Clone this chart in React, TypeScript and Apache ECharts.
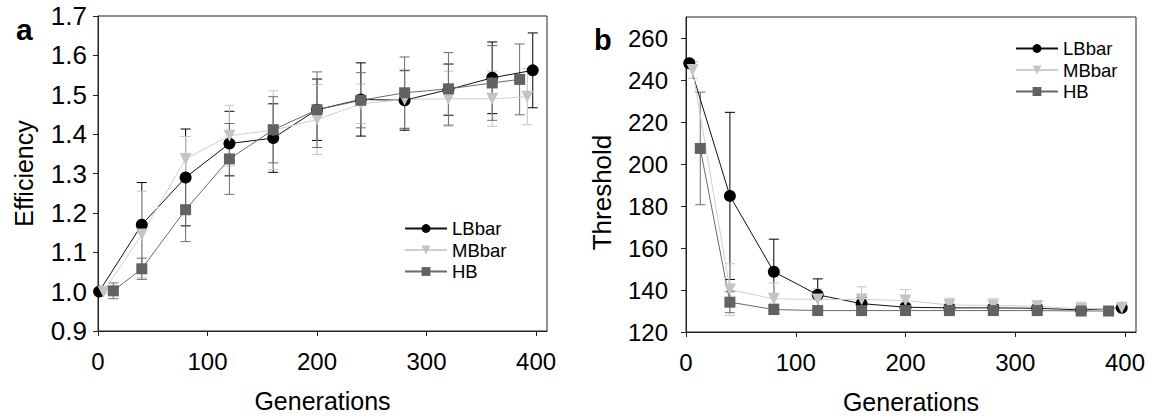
import React, { useEffect, useRef } from "react";
import * as echarts from "echarts";

// ---- Panel a: Efficiency ----
const genA_LB = [1, 40, 80, 120, 160, 200, 240, 280, 320, 360, 397];
const effLB = [1.0, 1.17, 1.29, 1.376, 1.39, 1.462, 1.488, 1.486, 1.513, 1.543, 1.562];
const effLBErr = [0.005, 0.107, 0.123, 0.082, 0.087, 0.078, 0.093, 0.076, 0.065, 0.091, 0.095];

const genA_MB = [5, 40, 80, 120, 160, 200, 240, 280, 320, 360, 392];
const effMB = [1.0, 1.145, 1.337, 1.396, 1.41, 1.437, 1.477, 1.488, 1.49, 1.49, 1.495];
const effMBErr = [0.005, 0.11, 0.057, 0.077, 0.1, 0.089, 0.05, 0.072, 0.07, 0.07, 0.071];

const genA_HB = [14, 40, 80, 120, 160, 200, 240, 280, 320, 360, 385];
const effHB = [1.002, 1.058, 1.208, 1.337, 1.411, 1.462, 1.486, 1.505, 1.515, 1.53, 1.539];
const effHBErr = [0.02, 0.027, 0.081, 0.09, 0.084, 0.096, 0.07, 0.091, 0.092, 0.095, 0.09];

// ---- Panel b: Threshold ----
const genB_LB = [3, 40, 80, 120, 160, 200, 240, 280, 320, 360, 397];
const thrLB = [248, 184.8, 148.7, 137.7, 133.5, 131.8, 131.5, 131.5, 131.3, 130.5, 131.5];
const thrLBErr = [1.5, 39.8, 15.5, 7.6, 3, 1.5, 1.5, 1.5, 1.5, 1.5, 1];

const genB_MB = [6, 40, 80, 120, 160, 200, 240, 280, 320, 360, 397];
const thrMB = [244.8, 140.2, 135.8, 135.5, 135.5, 135, 132.9, 132.6, 132.3, 131, 131.5];
const thrMBErr = [4, 12.3, 7.5, 5, 6, 5.2, 3.2, 3.2, 2.7, 3.2, 1];

const genB_HB = [13, 40, 80, 120, 160, 200, 240, 280, 320, 360, 385];
const thrHB = [207.4, 134.2, 130.7, 130.2, 130.2, 130.2, 130.2, 130.2, 130.2, 130, 130];
const thrHBErr = [26.8, 5, 1.5, 1, 1, 1, 1, 1, 1, 1, 1];

const seriesNames = ["LBbar", "MBbar", "HB"];
const xTicks = [0, 100, 200, 300, 400];
const yTicksA = [0.9, 1.0, 1.1, 1.2, 1.3, 1.4, 1.5, 1.6, 1.7];
const yTicksB = [120, 140, 160, 180, 200, 220, 240, 260];

const FONT = "Liberation Sans, Arial, sans-serif";
const C_LB = "#000000";
const C_MB = "#c4c4c4";
const C_HB = "#626262";
const TRI_DOWN = "path://M0,0 L10,0 L5,9 Z";

function lineSeries(name: string, xs: number[], ys: number[], color: string, lineColor: string, symbol: string, size: number, idx: number) {
  return {
    type: "line",
    name,
    xAxisIndex: idx,
    yAxisIndex: idx,
    data: xs.map((x, i) => [x, ys[i]]),
    symbol,
    symbolSize: size,
    showAllSymbol: true,
    itemStyle: { color, borderWidth: 0 },
    lineStyle: { color: lineColor, width: 1 },
    z: 3,
    silent: true,
  };
}

function errSeries(name: string, xs: number[], ys: number[], errs: number[], color: string, idx: number) {
  return {
    type: "custom",
    name,
    xAxisIndex: idx,
    yAxisIndex: idx,
    data: xs.map((x, i) => [x, ys[i] - errs[i], ys[i] + errs[i]]),
    encode: { x: 0, y: [1, 2] },
    z: 2,
    silent: true,
    renderItem: (params: any, api: any) => {
      const x = api.value(0);
      const lo = api.value(1);
      const hi = api.value(2);
      const t = api.coord([x, hi]);
      const b = api.coord([x, lo]);
      const w = 5;
      const st = { stroke: color, lineWidth: 1 };
      return {
        type: "group",
        children: [
          { type: "line", shape: { x1: t[0], y1: t[1], x2: b[0], y2: b[1] }, style: st },
          { type: "line", shape: { x1: t[0] - w, y1: t[1], x2: t[0] + w, y2: t[1] }, style: st },
          { type: "line", shape: { x1: b[0] - w, y1: b[1], x2: b[0] + w, y2: b[1] }, style: st },
        ],
      };
    },
  };
}

function xAxisCfg(idx: number) {
  return {
    type: "value",
    gridIndex: idx,
    min: 0,
    max: 410,
    interval: 100,
    name: "Generations",
    nameLocation: "middle",
    nameGap: 57,
    nameTextStyle: { fontSize: 25, fontFamily: FONT, color: "#000" },
    axisLine: { show: true, lineStyle: { color: "#222", width: 1 } },
    axisTick: { show: true, inside: false, length: 5, lineStyle: { color: "#222" }, customValues: xTicks },
    axisLabel: { fontSize: 24, fontFamily: FONT, color: "#000", margin: 18, customValues: xTicks },
    splitLine: { show: false },
  };
}

function legendCfg(left: number, top: number) {
  return {
    data: seriesNames,
    orient: "vertical",
    left,
    top,
    itemWidth: 42,
    itemHeight: 11,
    itemGap: 2.5,
    textStyle: { fontSize: 18.5, fontFamily: FONT, color: "#000" },
    selectedMode: false,
  };
}

export default function App() {
  const ref = useRef<HTMLDivElement>(null);
  useEffect(() => {
    if (!ref.current) return;
    const chart = echarts.init(ref.current, null, { renderer: "svg" });
    const option: any = {
      animation: false,
      backgroundColor: "#ffffff",
      textStyle: { fontFamily: FONT },
      grid: [
        { left: 98, top: 16, width: 449, height: 315, show: true, borderColor: "#222", borderWidth: 1, backgroundColor: "transparent" },
        { left: 686, top: 17, width: 450, height: 316, show: true, borderColor: "#222", borderWidth: 1, backgroundColor: "transparent" },
      ],
      xAxis: [xAxisCfg(0), xAxisCfg(1)],
      yAxis: [
        {
          type: "value",
          gridIndex: 0,
          min: 0.9,
          max: 1.7,
          name: "Efficiency",
          nameLocation: "middle",
          nameGap: 62,
          nameRotate: 90,
          nameTextStyle: { fontSize: 25, fontFamily: FONT, color: "#000" },
          axisLine: { show: true, lineStyle: { color: "#222", width: 1 } },
          axisTick: { show: true, length: 5, lineStyle: { color: "#222" }, customValues: yTicksA },
          axisLabel: { fontSize: 26, fontFamily: FONT, color: "#000", margin: 11, customValues: yTicksA, formatter: (v: number) => v.toFixed(1) },
          splitLine: { show: false },
        },
        {
          type: "value",
          gridIndex: 1,
          min: 120,
          max: 270,
          name: "Threshold",
          nameLocation: "middle",
          nameGap: 71,
          nameRotate: 90,
          nameTextStyle: { fontSize: 26, fontFamily: FONT, color: "#000", padding: [0, 36, 0, 0] },
          axisLine: { show: true, lineStyle: { color: "#222", width: 1 } },
          axisTick: { show: true, length: 5, lineStyle: { color: "#222" }, customValues: yTicksB },
          axisLabel: { fontSize: 24, fontFamily: FONT, color: "#000", margin: 18, customValues: yTicksB },
          splitLine: { show: false },
        },
      ],
      legend: [legendCfg(399, 214), legendCfg(1010, 34)],
      graphic: [
        { type: "text", left: 16, top: 14, style: { text: "a", fontSize: 30, fontWeight: "bold", fontFamily: FONT, fill: "#000" } },
        { type: "text", left: 594, top: 25, style: { text: "b", fontSize: 29, fontWeight: "bold", fontFamily: FONT, fill: "#000" } },
      ],
      series: [
        errSeries("errLBa", genA_LB, effLB, effLBErr, C_LB, 0),
        errSeries("errMBa", genA_MB, effMB, effMBErr, C_MB, 0),
        errSeries("errHBa", genA_HB, effHB, effHBErr, "#6e6e6e", 0),
        lineSeries("LBbar", genA_LB, effLB, C_LB, "#111", "circle", 12, 0),
        lineSeries("MBbar", genA_MB, effMB, C_MB, "#cfcfcf", TRI_DOWN, 12, 0),
        lineSeries("HB", genA_HB, effHB, C_HB, "#6a6a6a", "rect", 11, 0),
        errSeries("errLBb", genB_LB, thrLB, thrLBErr, C_LB, 1),
        errSeries("errMBb", genB_MB, thrMB, thrMBErr, C_MB, 1),
        errSeries("errHBb", genB_HB, thrHB, thrHBErr, "#6e6e6e", 1),
        lineSeries("LBbar", genB_LB, thrLB, C_LB, "#111", "circle", 12, 1),
        lineSeries("MBbar", genB_MB, thrMB, C_MB, "#cfcfcf", TRI_DOWN, 12, 1),
        lineSeries("HB", genB_HB, thrHB, C_HB, "#6a6a6a", "rect", 11, 1),
      ],
    };
    chart.setOption(option);
    return () => chart.dispose();
  }, []);
  return <div ref={ref} style={{ position: "fixed", left: 0, top: 0, width: 1152, height: 419, background: "#fff" }} />;
}
